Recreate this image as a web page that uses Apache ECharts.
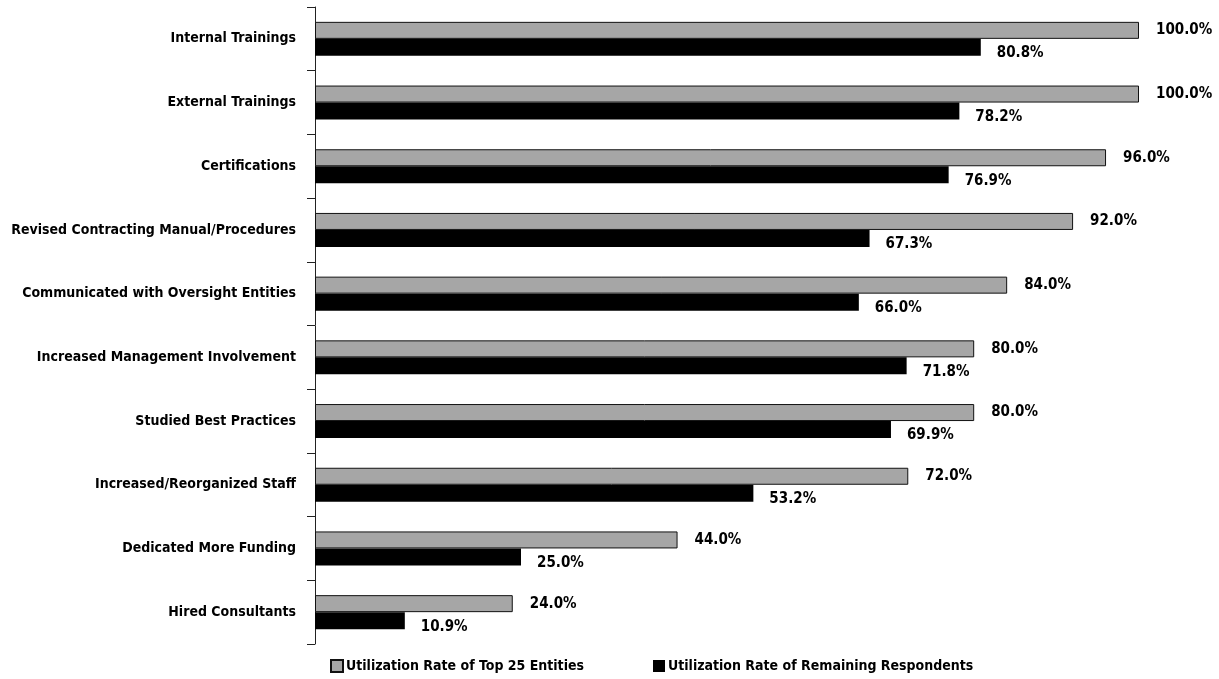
<!DOCTYPE html>
<html>
<head>
<meta charset="utf-8">
<script src="https://cdn.jsdelivr.net/npm/echarts@6/dist/echarts.min.js"></script>
<style>
html,body{margin:0;padding:0;background:#fff;}
#chart{width:1219px;height:679px;}
</style>
</head>
<body>
<div id="chart"></div>
<script>
var categories = [
  "Internal Trainings",
  "External Trainings",
  "Certifications",
  "Revised Contracting Manual/Procedures",
  "Communicated with Oversight Entities",
  "Increased Management Involvement",
  "Studied Best Practices",
  "Increased/Reorganized Staff",
  "Dedicated More Funding",
  "Hired Consultants"
];
var topEntities = [100.0, 100.0, 96.0, 92.0, 84.0, 80.0, 80.0, 72.0, 44.0, 24.0];
var remainingRespondents = [80.8, 78.2, 76.9, 67.3, 66.0, 71.8, 69.9, 53.2, 25.0, 10.9];
var seriesNames = ["Utilization Rate of Top 25 Entities", "Utilization Rate of Remaining Respondents"];

var FONT = "'DejaVu Sans Condensed', 'Liberation Sans Narrow', sans-serif";
var chart = echarts.init(document.getElementById('chart'), null, {renderer: 'canvas'});
var pct = function (p) { return p.value.toFixed(1) + '%'; };
chart.setOption({
  animation: false,
  backgroundColor: '#fff',
  textStyle: {fontFamily: FONT, fontWeight: 'bold', color: '#000'},
  grid: {left: 315, right: 80, top: 7, bottom: 35, containLabel: false, outerBoundsMode: 'none'},
  xAxis: {
    type: 'value', min: 0, max: 100,
    show: false
  },
  yAxis: {
    type: 'category',
    data: categories,
    inverse: true,
    axisLine: {show: true, lineStyle: {color: '#222', width: 1}},
    axisTick: {show: true, length: 8, lineStyle: {color: '#222'}},
    axisLabel: {fontFamily: FONT, fontWeight: 'bold', fontSize: 14, color: '#000', margin: 19},
    splitLine: {show: false}
  },
  legend: [
    {
      data: [seriesNames[0]], left: 330, top: 659, padding: 0,
      itemWidth: 12, itemHeight: 12, icon: 'rect',
      textStyle: {fontFamily: FONT, fontWeight: 'bold', fontSize: 14, color: '#000', padding: [0,0,0,-2]}
    },
    {
      data: [seriesNames[1]], left: 653, top: 659, padding: 0,
      itemWidth: 12, itemHeight: 12, icon: 'rect',
      textStyle: {fontFamily: FONT, fontWeight: 'bold', fontSize: 14, color: '#000', padding: [0,0,0,-2]}
    }
  ],
  series: [
    {
      name: seriesNames[0], type: 'bar', data: topEntities,
      barWidth: 17, barGap: '0%',
      itemStyle: {color: '#a6a6a6', borderColor: '#111', borderWidth: 1},
      label: {show: true, position: 'right', distance: 17, formatter: pct,
        fontFamily: FONT, fontWeight: 'bold', fontSize: 15, color: '#000'}
    },
    {
      name: seriesNames[1], type: 'bar', data: remainingRespondents,
      barWidth: 17, barGap: '0%',
      itemStyle: {color: '#000'},
      label: {show: true, position: 'right', distance: 16, offset: [0, 6], formatter: pct,
        fontFamily: FONT, fontWeight: 'bold', fontSize: 15, color: '#000'}
    }
  ]
});
</script>
</body>
</html>
